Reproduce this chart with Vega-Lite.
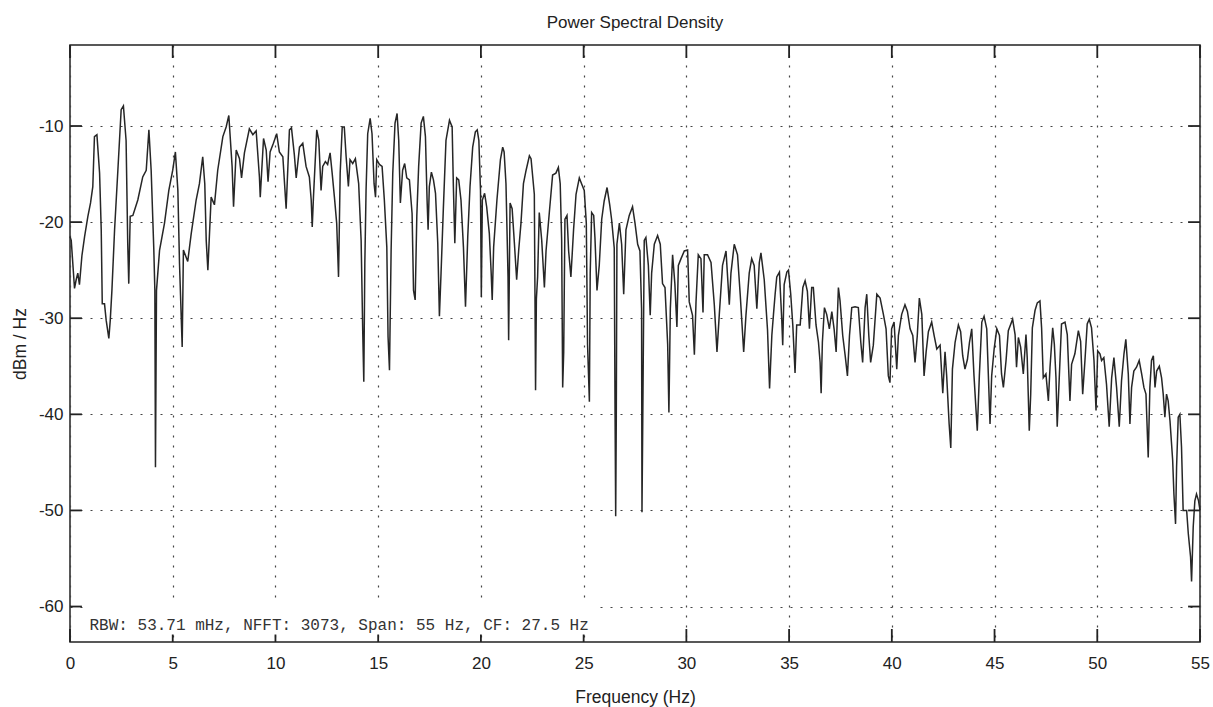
{
  "$schema": "https://vega.github.io/schema/vega-lite/v6.json",
  "width": 1130,
  "height": 597,
  "autosize": {"type": "none"},
  "padding": {"left": 70, "top": 45, "right": 13, "bottom": 65},
  "background": "white",
  "title": {"text": "Power Spectral Density", "fontSize": 17, "font": "Liberation Sans", "fontWeight": "normal", "color": "#222", "offset": 12, "anchor": "middle"},
  "config": {
    "view": {"stroke": "#222", "strokeWidth": 1.5},
    "axis": {"labelFont": "Liberation Sans", "titleFont": "Liberation Sans", "labelColor": "#222", "titleColor": "#222", "titleFontWeight": "normal", "labelFontSize": 17, "titleFontSize": 17.5, "domain": false}
  },
  "datasets": {
    "xticks": [{"v":0},{"v":5},{"v":10},{"v":15},{"v":20},{"v":25},{"v":30},{"v":35},{"v":40},{"v":45},{"v":50},{"v":55}],
    "yticks": [{"v":-60},{"v":-50},{"v":-40},{"v":-30},{"v":-20},{"v":-10}],
    "psd": [
      {"freq":0.00,"psd":-21.5},{"freq":0.06,"psd":-21.9},{"freq":0.22,"psd":-26.9},{"freq":0.30,"psd":-26.0},{"freq":0.38,"psd":-25.3},{"freq":0.46,"psd":-26.5},{"freq":0.58,"psd":-23.5},{"freq":0.71,"psd":-21.5},{"freq":0.87,"psd":-19.4},{"freq":1.00,"psd":-18.0},{"freq":1.11,"psd":-16.3},{"freq":1.19,"psd":-11.1},{"freq":1.31,"psd":-10.9},{"freq":1.44,"psd":-14.9},{"freq":1.52,"psd":-20.8},{"freq":1.57,"psd":-28.5},{"freq":1.68,"psd":-28.5},{"freq":1.76,"psd":-30.2},{"freq":1.89,"psd":-32.1},{"freq":1.96,"psd":-30.2},{"freq":2.04,"psd":-27.1},{"freq":2.17,"psd":-20.8},{"freq":2.33,"psd":-14.6},{"freq":2.49,"psd":-8.3},{"freq":2.60,"psd":-7.9},{"freq":2.73,"psd":-11.5},{"freq":2.81,"psd":-22.2},{"freq":2.86,"psd":-26.4},{"freq":2.93,"psd":-19.4},{"freq":3.06,"psd":-19.3},{"freq":3.30,"psd":-17.7},{"freq":3.54,"psd":-15.3},{"freq":3.71,"psd":-14.6},{"freq":3.84,"psd":-10.4},{"freq":3.95,"psd":-14.6},{"freq":4.08,"psd":-22.9},{"freq":4.13,"psd":-27.1},{"freq":4.16,"psd":-45.5},{"freq":4.21,"psd":-27.1},{"freq":4.36,"psd":-22.9},{"freq":4.60,"psd":-20.1},{"freq":4.81,"psd":-16.7},{"freq":5.00,"psd":-14.6},{"freq":5.13,"psd":-12.7},{"freq":5.25,"psd":-16.7},{"freq":5.33,"psd":-24.3},{"freq":5.46,"psd":-33.0},{"freq":5.52,"psd":-22.9},{"freq":5.73,"psd":-24.1},{"freq":5.90,"psd":-21.2},{"freq":6.14,"psd":-17.7},{"freq":6.30,"psd":-16.0},{"freq":6.46,"psd":-13.2},{"freq":6.56,"psd":-16.0},{"freq":6.63,"psd":-21.9},{"freq":6.71,"psd":-25.0},{"freq":6.87,"psd":-17.4},{"freq":7.03,"psd":-18.2},{"freq":7.19,"psd":-14.6},{"freq":7.44,"psd":-11.1},{"freq":7.60,"psd":-10.1},{"freq":7.73,"psd":-8.9},{"freq":7.89,"psd":-14.2},{"freq":7.96,"psd":-18.4},{"freq":8.09,"psd":-12.5},{"freq":8.25,"psd":-13.4},{"freq":8.35,"psd":-15.4},{"freq":8.49,"psd":-12.8},{"freq":8.73,"psd":-10.3},{"freq":8.90,"psd":-10.9},{"freq":9.06,"psd":-10.5},{"freq":9.22,"psd":-15.3},{"freq":9.26,"psd":-17.4},{"freq":9.42,"psd":-11.3},{"freq":9.55,"psd":-12.5},{"freq":9.64,"psd":-15.8},{"freq":9.74,"psd":-12.7},{"freq":9.90,"psd":-11.8},{"freq":10.06,"psd":-10.8},{"freq":10.19,"psd":-12.7},{"freq":10.36,"psd":-13.2},{"freq":10.52,"psd":-18.6},{"freq":10.68,"psd":-10.4},{"freq":10.78,"psd":-10.2},{"freq":10.92,"psd":-13.0},{"freq":11.01,"psd":-15.4},{"freq":11.17,"psd":-12.2},
      {"freq":11.33,"psd":-11.8},{"freq":11.49,"psd":-14.2},{"freq":11.65,"psd":-15.3},{"freq":11.74,"psd":-17.7},{"freq":11.79,"psd":-20.5},{"freq":11.85,"psd":-17.4},{"freq":11.95,"psd":-13.0},{"freq":12.01,"psd":-10.4},{"freq":12.11,"psd":-11.5},{"freq":12.22,"psd":-16.7},{"freq":12.30,"psd":-14.2},{"freq":12.43,"psd":-13.7},{"freq":12.54,"psd":-14.0},{"freq":12.66,"psd":-12.8},{"freq":12.76,"psd":-14.9},{"freq":12.87,"psd":-17.4},{"freq":12.98,"psd":-20.1},{"freq":13.07,"psd":-25.7},{"freq":13.15,"psd":-14.9},{"freq":13.25,"psd":-10.1},{"freq":13.35,"psd":-10.1},{"freq":13.44,"psd":-13.2},{"freq":13.55,"psd":-16.3},{"freq":13.63,"psd":-13.5},{"freq":13.76,"psd":-13.9},{"freq":13.89,"psd":-13.4},{"freq":14.05,"psd":-16.0},{"freq":14.17,"psd":-21.9},{"freq":14.25,"psd":-31.6},{"freq":14.30,"psd":-36.6},{"freq":14.35,"psd":-24.3},{"freq":14.41,"psd":-16.7},{"freq":14.49,"psd":-10.8},{"freq":14.61,"psd":-9.2},{"freq":14.70,"psd":-10.8},{"freq":14.80,"psd":-16.0},{"freq":14.87,"psd":-17.4},{"freq":14.93,"psd":-13.5},{"freq":15.06,"psd":-14.0},{"freq":15.19,"psd":-14.2},{"freq":15.30,"psd":-17.7},{"freq":15.42,"psd":-22.6},{"freq":15.48,"psd":-31.9},{"freq":15.55,"psd":-35.4},{"freq":15.63,"psd":-22.9},{"freq":15.71,"psd":-14.9},{"freq":15.82,"psd":-9.7},{"freq":15.92,"psd":-8.7},{"freq":16.00,"psd":-11.5},{"freq":16.08,"psd":-18.0},{"freq":16.19,"psd":-14.6},{"freq":16.29,"psd":-13.9},{"freq":16.39,"psd":-15.4},{"freq":16.52,"psd":-15.6},{"freq":16.65,"psd":-19.1},{"freq":16.72,"psd":-27.1},{"freq":16.80,"psd":-28.1},{"freq":16.88,"psd":-19.4},{"freq":16.97,"psd":-14.2},{"freq":17.09,"psd":-9.7},{"freq":17.20,"psd":-9.0},{"freq":17.30,"psd":-11.1},{"freq":17.38,"psd":-17.7},{"freq":17.43,"psd":-20.8},{"freq":17.49,"psd":-16.3},{"freq":17.59,"psd":-14.8},{"freq":17.69,"psd":-15.6},{"freq":17.79,"psd":-17.0},{"freq":17.90,"psd":-22.2},{"freq":17.98,"psd":-29.8},{"freq":18.06,"psd":-25.3},{"freq":18.17,"psd":-18.7},{"freq":18.30,"psd":-11.5},{"freq":18.47,"psd":-9.4},{"freq":18.60,"psd":-10.1},{"freq":18.66,"psd":-16.3},{"freq":18.73,"psd":-22.2},{"freq":18.82,"psd":-15.4},{"freq":18.92,"psd":-15.6},{"freq":19.03,"psd":-17.7},{"freq":19.15,"psd":-22.6},{"freq":19.25,"psd":-28.8},{"freq":19.36,"psd":-21.5},{"freq":19.47,"psd":-16.3},{"freq":19.60,"psd":-12.2},{"freq":19.73,"psd":-10.6},{"freq":19.82,"psd":-10.4},{"freq":19.90,"psd":-11.5},{"freq":19.98,"psd":-16.7},{"freq":20.02,"psd":-27.8},{"freq":20.07,"psd":-17.7},{"freq":20.18,"psd":-17.0},{"freq":20.28,"psd":-18.4},{"freq":20.41,"psd":-21.2},{"freq":20.50,"psd":-25.3},{"freq":20.55,"psd":-28.1},{"freq":20.62,"psd":-22.6},{"freq":20.78,"psd":-17.7},{"freq":20.95,"psd":-13.5},{"freq":21.06,"psd":-12.2},{"freq":21.13,"psd":-12.7},{"freq":21.22,"psd":-16.0},{"freq":21.32,"psd":-25.7},{"freq":21.35,"psd":-32.3},{"freq":21.42,"psd":-18.0},{"freq":21.52,"psd":-18.6},{"freq":21.63,"psd":-22.2},{"freq":21.74,"psd":-26.0},{"freq":21.84,"psd":-22.9},{"freq":21.95,"psd":-20.1},{"freq":22.07,"psd":-16.0},{"freq":22.20,"psd":-14.6},{"freq":22.36,"psd":-13.1},
      {"freq":22.44,"psd":-13.4},{"freq":22.60,"psd":-17.1},{"freq":22.64,"psd":-30.5},{"freq":22.66,"psd":-37.5},{"freq":22.70,"psd":-28.0},{"freq":22.76,"psd":-25.7},{"freq":22.84,"psd":-19.0},{"freq":22.96,"psd":-21.9},{"freq":23.09,"psd":-26.8},{"freq":23.17,"psd":-23.0},{"freq":23.33,"psd":-19.0},{"freq":23.49,"psd":-15.1},{"freq":23.65,"psd":-14.9},{"freq":23.77,"psd":-14.3},{"freq":23.86,"psd":-16.0},{"freq":23.93,"psd":-21.9},{"freq":23.98,"psd":-37.2},{"freq":24.03,"psd":-33.5},{"freq":24.09,"psd":-19.7},{"freq":24.19,"psd":-19.3},{"freq":24.27,"psd":-23.0},{"freq":24.38,"psd":-25.7},{"freq":24.51,"psd":-20.8},{"freq":24.63,"psd":-17.1},{"freq":24.79,"psd":-15.4},{"freq":24.90,"psd":-16.0},{"freq":25.03,"psd":-16.7},{"freq":25.13,"psd":-20.1},{"freq":25.19,"psd":-32.7},{"freq":25.28,"psd":-38.7},{"freq":25.32,"psd":-25.3},{"freq":25.39,"psd":-19.0},{"freq":25.49,"psd":-19.3},{"freq":25.55,"psd":-21.6},{"freq":25.65,"psd":-27.1},{"freq":25.76,"psd":-24.5},{"freq":25.88,"psd":-19.7},{"freq":26.00,"psd":-17.8},{"freq":26.14,"psd":-16.4},{"freq":26.27,"psd":-18.2},{"freq":26.36,"psd":-19.7},{"freq":26.49,"psd":-22.7},{"freq":26.53,"psd":-40.1},{"freq":26.56,"psd":-50.6},{"freq":26.59,"psd":-40.1},{"freq":26.62,"psd":-22.3},{"freq":26.74,"psd":-20.1},{"freq":26.85,"psd":-22.3},{"freq":26.95,"psd":-27.5},{"freq":27.06,"psd":-20.8},{"freq":27.22,"psd":-19.3},{"freq":27.38,"psd":-18.4},{"freq":27.50,"psd":-20.1},{"freq":27.63,"psd":-22.3},{"freq":27.74,"psd":-23.0},{"freq":27.82,"psd":-29.0},{"freq":27.84,"psd":-50.2},{"freq":27.88,"psd":-40.0},{"freq":27.95,"psd":-21.9},{"freq":28.03,"psd":-21.6},{"freq":28.15,"psd":-24.5},{"freq":28.24,"psd":-29.7},{"freq":28.31,"psd":-25.3},{"freq":28.44,"psd":-22.3},{"freq":28.60,"psd":-21.4},{"freq":28.73,"psd":-22.3},{"freq":28.84,"psd":-26.4},{"freq":28.96,"psd":-26.8},{"freq":29.09,"psd":-32.7},{"freq":29.15,"psd":-39.8},{"freq":29.22,"psd":-29.0},{"freq":29.33,"psd":-23.4},{"freq":29.44,"psd":-26.4},{"freq":29.54,"psd":-30.9},{"freq":29.61,"psd":-24.5},{"freq":29.74,"psd":-23.8},{"freq":29.90,"psd":-23.0},{"freq":30.06,"psd":-22.9},{"freq":30.14,"psd":-28.3},{"freq":30.30,"psd":-29.7},{"freq":30.39,"psd":-33.8},{"freq":30.47,"psd":-28.3},{"freq":30.58,"psd":-23.4},{"freq":30.71,"psd":-23.8},{"freq":30.81,"psd":-29.4},{"freq":30.87,"psd":-23.4},{"freq":31.03,"psd":-23.4},{"freq":31.20,"psd":-24.2},{"freq":31.36,"psd":-28.6},{"freq":31.49,"psd":-33.5},{"freq":31.60,"psd":-29.7},{"freq":31.76,"psd":-24.5},{"freq":31.93,"psd":-23.0},{"freq":32.09,"psd":-28.6},{"freq":32.17,"psd":-25.3},{"freq":32.33,"psd":-22.3},{"freq":32.49,"psd":-23.4},{"freq":32.62,"psd":-27.5},{"freq":32.79,"psd":-33.5},{"freq":32.90,"psd":-29.7},{"freq":33.06,"psd":-25.3},{"freq":33.18,"psd":-23.8},{"freq":33.30,"psd":-24.5},{"freq":33.43,"psd":-29.0},{"freq":33.55,"psd":-24.2},{"freq":33.63,"psd":-23.2},{"freq":33.79,"psd":-26.0},{"freq":33.95,"psd":-31.2},{"freq":34.05,"psd":-37.3},
      {"freq":34.16,"psd":-31.8},{"freq":34.24,"psd":-29.6},{"freq":34.32,"psd":-27.5},{"freq":34.40,"psd":-25.7},{"freq":34.53,"psd":-25.2},{"freq":34.64,"psd":-30.0},{"freq":34.69,"psd":-32.8},{"freq":34.76,"psd":-26.5},{"freq":34.89,"psd":-25.2},{"freq":34.97,"psd":-25.0},{"freq":35.08,"psd":-27.5},{"freq":35.18,"psd":-30.7},{"freq":35.29,"psd":-35.7},{"freq":35.37,"psd":-30.7},{"freq":35.54,"psd":-30.7},{"freq":35.67,"psd":-26.8},{"freq":35.78,"psd":-26.1},{"freq":35.89,"psd":-27.2},{"freq":35.99,"psd":-31.1},{"freq":36.10,"psd":-26.8},{"freq":36.18,"psd":-26.8},{"freq":36.31,"psd":-30.7},{"freq":36.43,"psd":-32.5},{"freq":36.51,"psd":-34.6},{"freq":36.56,"psd":-37.8},{"freq":36.62,"psd":-32.5},{"freq":36.72,"psd":-28.9},{"freq":36.83,"psd":-29.6},{"freq":36.96,"psd":-31.1},{"freq":37.08,"psd":-29.3},{"freq":37.19,"psd":-31.1},{"freq":37.29,"psd":-33.5},{"freq":37.40,"psd":-26.8},{"freq":37.48,"psd":-28.2},{"freq":37.61,"psd":-31.8},{"freq":37.73,"psd":-33.9},{"freq":37.84,"psd":-36.0},{"freq":37.94,"psd":-31.8},{"freq":38.05,"psd":-28.9},{"freq":38.21,"psd":-28.8},{"freq":38.37,"psd":-28.9},{"freq":38.49,"psd":-32.5},{"freq":38.58,"psd":-34.6},{"freq":38.70,"psd":-28.9},{"freq":38.78,"psd":-27.5},{"freq":38.88,"psd":-31.8},{"freq":38.97,"psd":-34.6},{"freq":39.10,"psd":-32.8},{"freq":39.27,"psd":-27.5},{"freq":39.43,"psd":-27.9},{"freq":39.59,"psd":-29.6},{"freq":39.72,"psd":-31.1},{"freq":39.83,"psd":-36.0},{"freq":39.91,"psd":-36.7},{"freq":39.99,"psd":-31.1},{"freq":40.11,"psd":-30.4},{"freq":40.24,"psd":-35.3},{"freq":40.32,"psd":-31.8},{"freq":40.48,"psd":-29.6},{"freq":40.64,"psd":-28.6},{"freq":40.76,"psd":-29.3},{"freq":40.89,"psd":-31.1},{"freq":41.02,"psd":-31.8},{"freq":41.13,"psd":-34.6},{"freq":41.24,"psd":-31.8},{"freq":41.34,"psd":-27.9},{"freq":41.46,"psd":-29.6},{"freq":41.57,"psd":-36.0},{"freq":41.67,"psd":-33.5},{"freq":41.78,"psd":-31.4},{"freq":41.94,"psd":-30.4},{"freq":42.06,"psd":-31.8},{"freq":42.19,"psd":-33.2},{"freq":42.35,"psd":-32.8},{"freq":42.48,"psd":-37.8},{"freq":42.59,"psd":-33.5},{"freq":42.67,"psd":-36.0},{"freq":42.79,"psd":-41.0},{"freq":42.87,"psd":-43.5},{"freq":42.95,"psd":-35.3},{"freq":43.08,"psd":-32.5},{"freq":43.24,"psd":-30.7},{"freq":43.35,"psd":-31.4},{"freq":43.45,"psd":-33.9},{"freq":43.56,"psd":-35.3},{"freq":43.68,"psd":-34.3},{"freq":43.78,"psd":-32.5},{"freq":43.89,"psd":-31.1},{"freq":44.00,"psd":-36.0},{"freq":44.10,"psd":-39.6},{"freq":44.16,"psd":-41.7},{"freq":44.26,"psd":-36.0},{"freq":44.38,"psd":-30.4},{"freq":44.49,"psd":-29.8},{"freq":44.62,"psd":-31.1},{"freq":44.70,"psd":-36.0},{"freq":44.78,"psd":-41.0},{"freq":44.86,"psd":-36.0},{"freq":44.98,"psd":-33.2},{"freq":45.11,"psd":-31.1},{"freq":45.24,"psd":-31.8},
      {"freq":45.34,"psd":-35.8},{"freq":45.43,"psd":-37.2},{"freq":45.56,"psd":-34.4},{"freq":45.67,"psd":-31.3},{"freq":45.88,"psd":-30.1},{"freq":46.00,"psd":-31.7},{"freq":46.07,"psd":-35.1},{"freq":46.16,"psd":-32.0},{"freq":46.27,"psd":-33.0},{"freq":46.40,"psd":-35.8},{"freq":46.53,"psd":-31.7},{"freq":46.59,"psd":-34.1},{"freq":46.69,"psd":-41.7},{"freq":46.76,"psd":-37.9},{"freq":46.84,"psd":-31.0},{"freq":46.97,"psd":-29.2},{"freq":47.08,"psd":-28.4},{"freq":47.21,"psd":-28.2},{"freq":47.29,"psd":-31.0},{"freq":47.37,"psd":-36.2},{"freq":47.50,"psd":-35.8},{"freq":47.62,"psd":-38.6},{"freq":47.70,"psd":-35.1},{"freq":47.83,"psd":-31.0},{"freq":47.91,"psd":-32.7},{"freq":47.99,"psd":-36.2},{"freq":48.05,"psd":-41.3},{"freq":48.15,"psd":-36.2},{"freq":48.26,"psd":-30.6},{"freq":48.43,"psd":-30.4},{"freq":48.54,"psd":-31.7},{"freq":48.67,"psd":-38.6},{"freq":48.75,"psd":-34.8},{"freq":48.91,"psd":-33.7},{"freq":49.08,"psd":-31.3},{"freq":49.19,"psd":-32.4},{"freq":49.29,"psd":-37.9},{"freq":49.40,"psd":-34.4},{"freq":49.51,"psd":-30.6},{"freq":49.61,"psd":-30.1},{"freq":49.72,"psd":-31.0},{"freq":49.84,"psd":-34.4},{"freq":49.94,"psd":-39.6},{"freq":50.02,"psd":-33.4},{"freq":50.13,"psd":-33.7},{"freq":50.21,"psd":-34.4},{"freq":50.32,"psd":-34.1},{"freq":50.45,"psd":-36.9},{"freq":50.58,"psd":-41.3},{"freq":50.70,"psd":-36.2},{"freq":50.81,"psd":-34.1},{"freq":50.94,"psd":-37.2},{"freq":51.07,"psd":-41.3},{"freq":51.18,"psd":-36.5},{"freq":51.30,"psd":-33.7},{"freq":51.39,"psd":-32.2},{"freq":51.51,"psd":-35.8},{"freq":51.59,"psd":-41.0},{"freq":51.67,"psd":-37.2},{"freq":51.78,"psd":-35.5},{"freq":51.91,"psd":-35.1},{"freq":52.04,"psd":-34.4},{"freq":52.16,"psd":-35.8},{"freq":52.27,"psd":-37.2},{"freq":52.37,"psd":-37.9},{"freq":52.48,"psd":-44.5},{"freq":52.56,"psd":-37.2},{"freq":52.64,"psd":-34.4},{"freq":52.73,"psd":-33.9},{"freq":52.81,"psd":-37.2},{"freq":52.89,"psd":-35.5},{"freq":53.02,"psd":-35.0},{"freq":53.13,"psd":-36.2},{"freq":53.21,"psd":-37.9},{"freq":53.29,"psd":-40.3},{"freq":53.37,"psd":-37.9},{"freq":53.45,"psd":-38.6},{"freq":53.54,"psd":-40.7},{"freq":53.67,"psd":-44.8},{"freq":53.73,"psd":-48.3},{"freq":53.81,"psd":-51.4},{"freq":53.86,"psd":-45.5},{"freq":53.94,"psd":-40.3},{"freq":54.02,"psd":-40.0},{"freq":54.10,"psd":-43.4},{"freq":54.18,"psd":-50.0},{"freq":54.35,"psd":-50.0},{"freq":54.43,"psd":-52.4},{"freq":54.54,"psd":-54.8},{"freq":54.59,"psd":-57.4},{"freq":54.67,"psd":-51.7},{"freq":54.75,"psd":-49.0},{"freq":54.83,"psd":-48.3},{"freq":54.93,"psd":-49.0},{"freq":55.00,"psd":-50.0}
    ]
  },
  "resolve": {"axis": {"x": "independent", "y": "independent"}},
  "layer": [
    {
      "data": {"name": "psd"},
      "mark": {"type": "line", "color": "#262626", "strokeWidth": 1.5},
      "encoding": {
        "x": {"field": "freq", "type": "quantitative", "scale": {"domain": [0, 55], "nice": false, "zero": false},
          "axis": {"orient": "bottom", "values": [0,5,10,15,20,25,30,35,40,45,50,55], "labelFlush": false, "grid": true, "gridDash": [2, 8], "gridColor": "#444", "gridWidth": 1.2, "gridOpacity": 1, "ticks": false, "labelPadding": 26, "labelBaseline": "alphabetic", "title": "Frequency (Hz)", "titleBaseline": "alphabetic", "titleX": 565, "titleY": 60.5}},
        "y": {"field": "psd", "type": "quantitative", "scale": {"domain": [-63.69, -1.57], "nice": false, "zero": false},
          "axis": {"orient": "left", "values": [-60,-50,-40,-30,-20,-10], "labelExpr": "replace(datum.label, '\u2212', '-')", "grid": true, "gridDash": [2, 8], "gridColor": "#444", "gridWidth": 1.2, "gridOpacity": 1, "ticks": false, "labelPadding": 7, "title": "dBm / Hz", "titleBaseline": "alphabetic", "titleAngle": -90, "titleX": -45, "titleY": 298.5}}
      }
    },
    {
      "data": {"name": "xticks"},
      "mark": {"type": "rule", "color": "#222", "strokeWidth": 1.8},
      "encoding": {
        "x": {"field": "v", "type": "quantitative", "axis": null},
        "y": {"datum": -63.69, "type": "quantitative", "axis": null},
        "y2": {"datum": -62.34}
      }
    },
    {
      "data": {"name": "xticks"},
      "mark": {"type": "rule", "color": "#222", "strokeWidth": 1.8},
      "encoding": {
        "x": {"field": "v", "type": "quantitative", "axis": null},
        "y": {"datum": -1.57, "type": "quantitative", "axis": null},
        "y2": {"datum": -2.92}
      }
    },
    {
      "data": {"name": "yticks"},
      "mark": {"type": "rule", "color": "#222", "strokeWidth": 1.8},
      "encoding": {
        "y": {"field": "v", "type": "quantitative", "axis": null},
        "x": {"datum": 0, "type": "quantitative", "axis": null},
        "x2": {"datum": 0.58}
      }
    },
    {
      "data": {"name": "yticks"},
      "mark": {"type": "rule", "color": "#222", "strokeWidth": 1.8},
      "encoding": {
        "y": {"field": "v", "type": "quantitative", "axis": null},
        "x": {"datum": 55, "type": "quantitative", "axis": null},
        "x2": {"datum": 54.42}
      }
    },
    {
      "data": {"values": [{}]},
      "mark": {"type": "rect", "fill": "white"},
      "encoding": {
        "x": {"datum": 0.86, "type": "quantitative", "axis": null},
        "x2": {"datum": 25.6},
        "y": {"datum": -59.7, "type": "quantitative", "axis": null},
        "y2": {"datum": -62.9}
      }
    },
    {
      "data": {"values": [{}]},
      "mark": {"type": "text", "font": "Liberation Mono", "fontSize": 16, "align": "left", "baseline": "alphabetic", "color": "#333"},
      "encoding": {
        "x": {"datum": 0.95, "type": "quantitative", "axis": null},
        "y": {"datum": -62.45, "type": "quantitative", "axis": null},
        "text": {"value": "RBW: 53.71 mHz, NFFT: 3073, Span: 55 Hz, CF: 27.5 Hz"}
      }
    }
  ]
}
